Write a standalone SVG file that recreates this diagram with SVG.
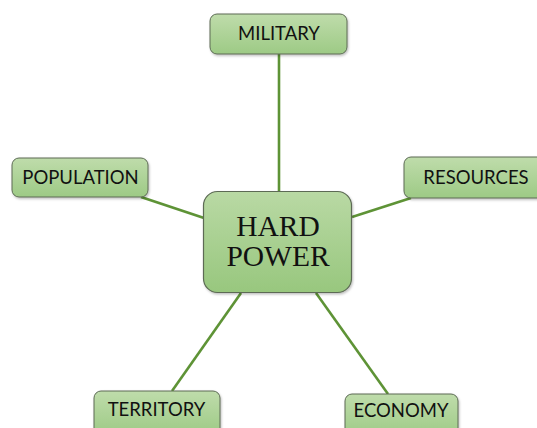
<svg xmlns="http://www.w3.org/2000/svg" width="537" height="428" viewBox="0 0 537 428">
  <defs>
    <linearGradient id="boxFill" x1="0" y1="0" x2="0" y2="1">
      <stop offset="0" stop-color="#bfdcab"/>
      <stop offset="1" stop-color="#9dca85"/>
    </linearGradient>
    <linearGradient id="hubFill" x1="0" y1="0" x2="0" y2="1">
      <stop offset="0" stop-color="#b9d9a4"/>
      <stop offset="1" stop-color="#98c77e"/>
    </linearGradient>
    <filter id="shadow" x="-10%" y="-10%" width="125%" height="130%">
      <feDropShadow dx="1" dy="1.5" stdDeviation="1" flood-color="#000" flood-opacity="0.25"/>
    </filter>
  </defs>
  <style>
    .box { fill: url(#boxFill); stroke: #5d6b55; stroke-width: 1; filter: url(#shadow); }
    .hub { fill: url(#hubFill); stroke: #5d6b55; stroke-width: 1.2; filter: url(#shadow); }
    .label { font-family: "Lato", "Liberation Sans", sans-serif; font-size: 18.5px; fill: #111; text-anchor: middle; }
    .title { font-family: "Liberation Serif", serif; font-size: 29.5px; fill: #111; text-anchor: middle; }
    .link { stroke: #5e9336; stroke-width: 2.6; fill: none; }
  </style>
  <rect width="537" height="428" fill="#fff"/>

  <!-- spokes from the hub out to each factor -->
  <g id="connectors">
    <line class="link" x1="279" y1="54" x2="279" y2="191"/>
    <line class="link" x1="141" y1="197" x2="204" y2="218"/>
    <line class="link" x1="411" y1="198" x2="352" y2="217"/>
    <line class="link" x1="241" y1="293" x2="172" y2="391"/>
    <line class="link" x1="316" y1="293" x2="388" y2="394"/>
  </g>

  <g id="military">
    <rect class="box" x="210" y="14" width="137" height="40" rx="7"/>
    <text class="label" x="279" y="40">MILITARY</text>
  </g>
  <g id="population">
    <rect class="box" x="12" y="158" width="136" height="39" rx="7"/>
    <text class="label" x="80.5" y="184">POPULATION</text>
  </g>
  <g id="resources">
    <rect class="box" x="404" y="157" width="140" height="41" rx="7"/>
    <text class="label" x="476" y="184">RESOURCES</text>
  </g>
  <g id="territory">
    <rect class="box" x="94" y="391" width="126" height="44" rx="7"/>
    <text class="label" x="156.5" y="416">TERRITORY</text>
  </g>
  <g id="economy">
    <rect class="box" x="345" y="394" width="113" height="44" rx="7"/>
    <text class="label" x="401" y="417">ECONOMY</text>
  </g>

  <g id="hard-power">
    <rect class="hub" x="203.5" y="191.5" width="148" height="101" rx="14"/>
    <text class="title" x="278" y="236">HARD</text>
    <text class="title" x="278" y="266">POWER</text>
  </g>
</svg>
